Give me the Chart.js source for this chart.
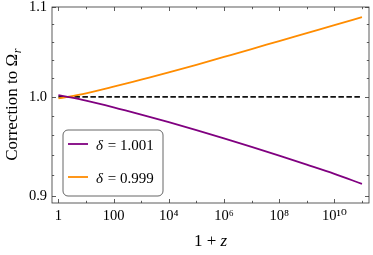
<!DOCTYPE html>
<html>
<head>
<meta charset="utf-8">
<script src="https://cdn.jsdelivr.net/npm/chart.js@4"></script>
<style>
  html, body { margin: 0; padding: 0; background: #fff; }
  #wrap { width: 373px; height: 255px; }
</style>
</head>
<body>
<div id="wrap"><canvas id="chart"></canvas></div>
<script>
// values
const zPlusOne = [1, 10, 100, 1e3, 1e4, 1e5, 1e6, 1e7, 1e8, 1e9, 1e10, 1e11];
const delta1001 = [1.0018, 0.9960, 0.9890, 0.9814, 0.9735, 0.9653, 0.9569, 0.9483, 0.9395, 0.9306, 0.9216, 0.9118];
const delta0999 = [0.9983, 1.0037, 1.0108, 1.0185, 1.0263, 1.0345, 1.0432, 1.0520, 1.0610, 1.0700, 1.0791, 1.0882];
const refX = [1, 1e11];
const refY = [1, 1];

const xTickValues = [1, 10, 100, 1e3, 1e4, 1e5, 1e6, 1e7, 1e8, 1e9, 1e10, 1e11];
const xTickLabels = ['1', '', '100', '', '10⁴', '', '10⁶', '', '10⁸', '', '10¹⁰', ''];
const yTickValues = [0.9, 0.92, 0.94, 0.96, 0.98, 1.0, 1.02, 1.04, 1.06, 1.08, 1.1];
const yTickLabels = ['0.9', '', '', '', '', '1.0', '', '', '', '', '1.1'];

const serif = "'Liberation Serif', 'DejaVu Serif', serif";

const toPoints = (xs, ys) => xs.map((x, i) => ({ x: x, y: ys[i] }));

// inward ticks on all four sides, frame, axis titles and the boxed legend
const decor = {
  id: 'decor',
  afterDraw(chart) {
    const { ctx, chartArea: a, scales: { x, y } } = chart;
    ctx.save();
    ctx.strokeStyle = '#333';
    ctx.lineWidth = 0.8;
    ctx.strokeRect(a.left, a.top, a.right - a.left, a.bottom - a.top);
    ctx.beginPath();
    x.ticks.forEach(t => {
      const px = Math.round(x.getPixelForValue(t.value)) + 0.5;
      const len = t.label ? 4 : 2.2;
      ctx.moveTo(px, a.bottom); ctx.lineTo(px, a.bottom - len);
      ctx.moveTo(px, a.top); ctx.lineTo(px, a.top + len);
    });
    y.ticks.forEach(t => {
      const py = Math.round(y.getPixelForValue(t.value)) + 0.5;
      const len = t.label ? 4 : 2.2;
      ctx.moveTo(a.left, py); ctx.lineTo(a.left + len, py);
      ctx.moveTo(a.right, py); ctx.lineTo(a.right - len, py);
    });
    ctx.stroke();

    // x title: 1 + z
    ctx.fillStyle = '#000';
    ctx.textBaseline = 'alphabetic';
    const xa = '1 + ';
    ctx.font = 'italic 17px ' + serif;
    const wz = ctx.measureText('z').width;
    ctx.font = '17px ' + serif;
    const wa = ctx.measureText(xa).width;
    const cx = (a.left + a.right) / 2;
    const sx = cx - (wa + wz) / 2;
    ctx.fillText(xa, sx, 246);
    ctx.font = 'italic 17px ' + serif;
    ctx.fillText('z', sx + wa, 246);

    // y title: Correction to Ω_r
    ctx.save();
    ctx.translate(17, (a.top + a.bottom) / 2);
    ctx.rotate(-Math.PI / 2);
    ctx.font = '17px ' + serif;
    const ya = 'Correction to Ω';
    const wya = ctx.measureText(ya).width;
    ctx.font = 'italic 12px ' + serif;
    const wr = ctx.measureText('r').width;
    const sy = -(wya + wr) / 2;
    ctx.font = '17px ' + serif;
    ctx.fillText(ya, sy, 0);
    ctx.font = 'italic 12px ' + serif;
    ctx.fillText('r', sy + wya + 0.5, 3.5);
    ctx.restore();

    // legend box
    const bx = 63, by = 130, bw = 100, bh = 66, r = 5;
    ctx.beginPath();
    ctx.moveTo(bx + r, by);
    ctx.arcTo(bx + bw, by, bx + bw, by + bh, r);
    ctx.arcTo(bx + bw, by + bh, bx, by + bh, r);
    ctx.arcTo(bx, by + bh, bx, by, r);
    ctx.arcTo(bx, by, bx + bw, by, r);
    ctx.closePath();
    ctx.fillStyle = '#fff';
    ctx.fill();
    ctx.strokeStyle = '#555';
    ctx.lineWidth = 0.9;
    ctx.stroke();

    const items = chart.data.datasets.filter(d => d.label);
    items.forEach((d, i) => {
      const ly = 144 + i * 33;
      ctx.beginPath();
      ctx.strokeStyle = d.borderColor;
      ctx.lineWidth = 1.8;
      ctx.moveTo(68, ly); ctx.lineTo(88, ly);
      ctx.stroke();
      const parts = d.label.split(' = ');
      ctx.fillStyle = '#000';
      ctx.font = 'italic 15px ' + serif;
      ctx.fillText(parts[0], 96, ly + 5.5);
      const w0 = ctx.measureText(parts[0]).width;
      ctx.font = '15px ' + serif;
      ctx.fillText(' = ' + parts[1], 96 + w0 + 1, ly + 5.5);
    });
    ctx.restore();
  }
};

new Chart(document.getElementById('chart'), {
  type: 'line',
  data: {
    datasets: [
      {
        label: 'δ = 1.001',
        data: toPoints(zPlusOne, delta1001),
        borderColor: '#800080',
        borderWidth: 1.8,
        pointRadius: 0,
        cubicInterpolationMode: 'monotone',
        fill: false,
      },
      {
        label: 'δ = 0.999',
        data: toPoints(zPlusOne, delta0999),
        borderColor: '#ff8c00',
        borderWidth: 1.8,
        pointRadius: 0,
        cubicInterpolationMode: 'monotone',
        fill: false,
      },
      {
        label: '',
        data: toPoints(refX, refY),
        borderColor: '#111',
        borderWidth: 1.8,
        borderDash: [5.5, 2.5],
        pointRadius: 0,
        fill: false,
      },
    ],
  },
  options: {
    responsive: true,
    maintainAspectRatio: false,
    animation: false,
    layout: { padding: { left: 0, top: 7, right: 4, bottom: 0 } },
    plugins: {
      legend: { display: false },
      tooltip: { enabled: false },
    },
    scales: {
      x: {
        type: 'logarithmic',
        bounds: 'data',
        min: 0.586,
        max: 1.8e11,
        grid: { display: false, drawTicks: false },
        border: { display: false },
        afterBuildTicks: s => { s.ticks = xTickValues.map(v => ({ value: v })); },
        afterFit: s => { s.height = 52; s.paddingLeft = 0; s.paddingRight = 0; },
        ticks: {
          autoSkip: false,
          maxRotation: 0,
          padding: 4,
          color: '#000',
          font: { family: serif, size: 14.5 },
          callback: (v, i) => xTickLabels[i],
        },
      },
      y: {
        type: 'logarithmic',
        bounds: 'data',
        min: 0.8935,
        max: 1.1,
        grid: { display: false, drawTicks: false },
        border: { display: false },
        afterBuildTicks: s => { s.ticks = yTickValues.map(v => ({ value: v })); },
        afterFit: s => { s.width = 52; s.paddingTop = 0; s.paddingBottom = 0; },
        ticks: {
          autoSkip: false,
          padding: 5,
          color: '#000',
          font: { family: serif, size: 14.5 },
          callback: (v, i) => yTickLabels[i],
        },
      },
    },
  },
  plugins: [decor],
});
</script>
</body>
</html>
